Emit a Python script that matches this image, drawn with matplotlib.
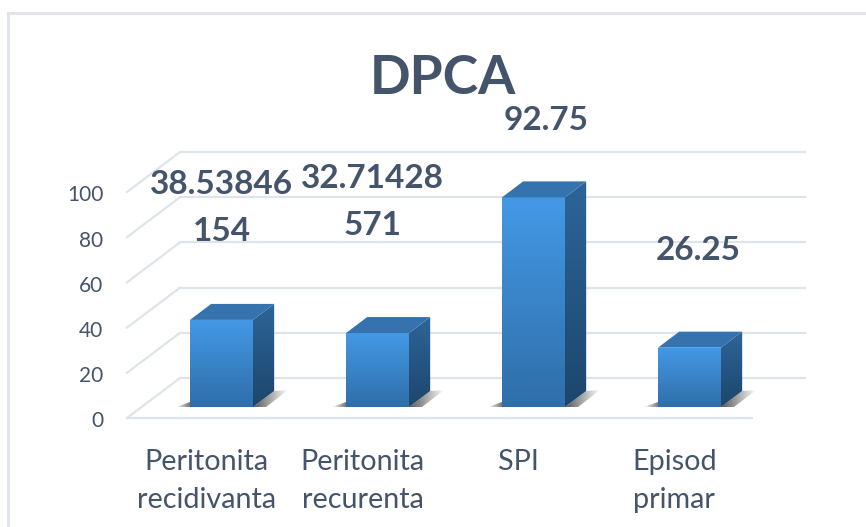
import matplotlib
matplotlib.use('Agg')
import matplotlib.pyplot as plt
import numpy as np
from matplotlib.colors import LinearSegmentedColormap, to_rgb
from matplotlib.lines import Line2D
from matplotlib.patches import Polygon
from matplotlib.transforms import ScaledTranslation

# Data
categories = ['Peritonita\nrecidivanta', 'Peritonita\nrecurenta', 'SPI', 'Episod\nprimar']
values = [38.53846154, 32.71428571, 92.75, 26.25]
value_labels = ['38.53846\n154', '32.71428\n571', '92.75', '26.25']
y_ticks = [0, 20, 40, 60, 80, 100]

# Layout in pixels of the 866x527 figure
W, H = 866, 527
LEFT, RIGHT, BOTTOM, TOP = 127, 805, 418, 152
PX_X = 156.0    # one category
PX_Y = 2.26     # one value unit
DEPTH_X = 53 / PX_X
DEPTH_Y = 40 / PX_Y
FRONT_D = 0.275  # bar front inside the floor
BAR_D = 0.4
BAR_W = 63 / PX_X
label_lift = [112, 131, 77, 97]  # px from bar top to label centre
label_shift = [0, -5, 13, 9]

GRID = '#dfe4ea'
TEXT = '#44546a'

plt.rcParams['font.family'] = ['Lato', 'DejaVu Sans']

fig = plt.figure(figsize=(W / 100, H / 100), dpi=100)
ax = fig.add_axes([LEFT / W, 1 - BOTTOM / H, (RIGHT - LEFT) / W, (BOTTOM - TOP) / H])
x0 = -(206.9 - LEFT) / PX_X
ax.set_xlim(x0, x0 + (RIGHT - LEFT) / PX_X)
ax.set_ylim(0, (BOTTOM - TOP) / PX_Y)
ax.set_autoscale_on(False)
for s in ax.spines.values():
    s.set_visible(False)

# Page frame
fig.add_artist(Line2D([8 / W, 8 / W], [0, 1 - 13 / H], color=GRID, lw=2))
fig.add_artist(Line2D([8 / W, 1], [1 - 13 / H, 1 - 13 / H], color=GRID, lw=2))

# Grid: back wall, floor side lines and front edge of the floor
right_x = x0 + (RIGHT - LEFT) / PX_X
for t in y_ticks:
    ax.plot([x0, x0 + DEPTH_X], [t, t + DEPTH_Y], color=GRID, lw=1.6, zorder=1, clip_on=False)
    ax.plot([x0 + DEPTH_X, right_x], [t + DEPTH_Y] * 2, color=GRID, lw=1.6, zorder=1, clip_on=False)
ax.plot([x0, right_x - DEPTH_X], [0, 0], color=GRID, lw=1.6, zorder=1, clip_on=False)


def gradient_fill(patch, top_col, bottom_col, extent, zorder):
    # vertical gradient clipped to the patch
    cmap = LinearSegmentedColormap.from_list('g', [top_col, bottom_col])
    im = ax.imshow(np.linspace(0, 1, 256).reshape(-1, 1), cmap=cmap, aspect='auto',
                   extent=extent, origin='upper', zorder=zorder)
    im.set_clip_path(patch)


fx = FRONT_D * DEPTH_X
fy = FRONT_D * DEPTH_Y
dx = BAR_D * DEPTH_X
dy = BAR_D * DEPTH_Y

for i, v in enumerate(values):
    l = i - BAR_W / 2 + fx
    r = i + BAR_W / 2 + fx
    base = fy
    top = fy + v

    # Shadow on the floor
    sh_right = Polygon([(r, base), (r + dx, base + dy), (r + dx + 14 / PX_X, base + dy + 1 / PX_Y),
                        (r + 13 / PX_X, base)], closed=True, fc='none', ec='none', zorder=2)
    ax.add_patch(sh_right)
    shade = np.zeros((1, 64, 4))
    shade[..., :3] = to_rgb('#3a3a3a')
    shade[..., 3] = np.linspace(0.85, 0.0, 64)
    im = ax.imshow(shade, aspect='auto', zorder=2,
                   extent=[r, r + dx + 14 / PX_X, base, base + dy + 1 / PX_Y])
    im.set_clip_path(sh_right)
    sh_left = Polygon([(l - 14 / PX_X, base), (l, base + 5 / PX_Y), (l, base)], closed=True,
                      fc='none', ec='none', zorder=2)
    ax.add_patch(sh_left)
    shade = shade.copy()
    shade[..., 3] = np.linspace(0.0, 0.7, 64)
    im = ax.imshow(shade, aspect='auto', zorder=2, extent=[l - 14 / PX_X, l, base, base + 5 / PX_Y])
    im.set_clip_path(sh_left)

    # Front face
    front = ax.bar(i + fx, v, width=BAR_W, bottom=base, color='none', edgecolor='none', zorder=3)[0]
    gradient_fill(front, '#4499e6', '#2f6ea9', [l, r, base, top], 3)

    # Right side
    side = Polygon([(r, base), (r + dx, base + dy), (r + dx, top + dy), (r, top)], closed=True,
                   fc='none', ec='none', zorder=3)
    ax.add_patch(side)
    gradient_fill(side, '#2d6599', '#1d466c', [r, r + dx, base, top + dy], 3)

    # Top face
    ax.add_patch(Polygon([(l, top), (l + dx, top + dy), (r + dx, top + dy), (r, top)], closed=True,
                         fc='#3572ae', ec='none', zorder=3))

    ax.annotate(value_labels[i], xy=(i + fx, top), xytext=(label_shift[i] * 0.72, label_lift[i] * 0.72),
                textcoords='offset points', ha='center', va='center', fontsize=24, fontweight='bold',
                color=TEXT, linespacing=1.75, annotation_clip=False, zorder=5)

# Axis text
ax.set_yticks(y_ticks)
ax.set_xticks(range(len(categories)))
ax.set_xticklabels(categories)
ax.tick_params(axis='both', length=0)
ax.tick_params(axis='y', pad=17, labelsize=15, labelcolor=TEXT)
ax.tick_params(axis='x', pad=22, labelsize=20.7, labelcolor=TEXT)
for lab in ax.get_xticklabels():
    lab.set_linespacing(1.58)
ax.get_xticklabels()[-1].set_multialignment('left')
for lab in ax.get_yticklabels():
    lab.set_transform(lab.get_transform() + ScaledTranslation(0, -1 / 72, fig.dpi_scale_trans))

fig.text(443 / W, 1 - 78 / H, 'DPCA', ha='center', va='center', fontsize=38.5, fontweight='bold', color=TEXT)

fig.savefig('out.png', dpi=100)
